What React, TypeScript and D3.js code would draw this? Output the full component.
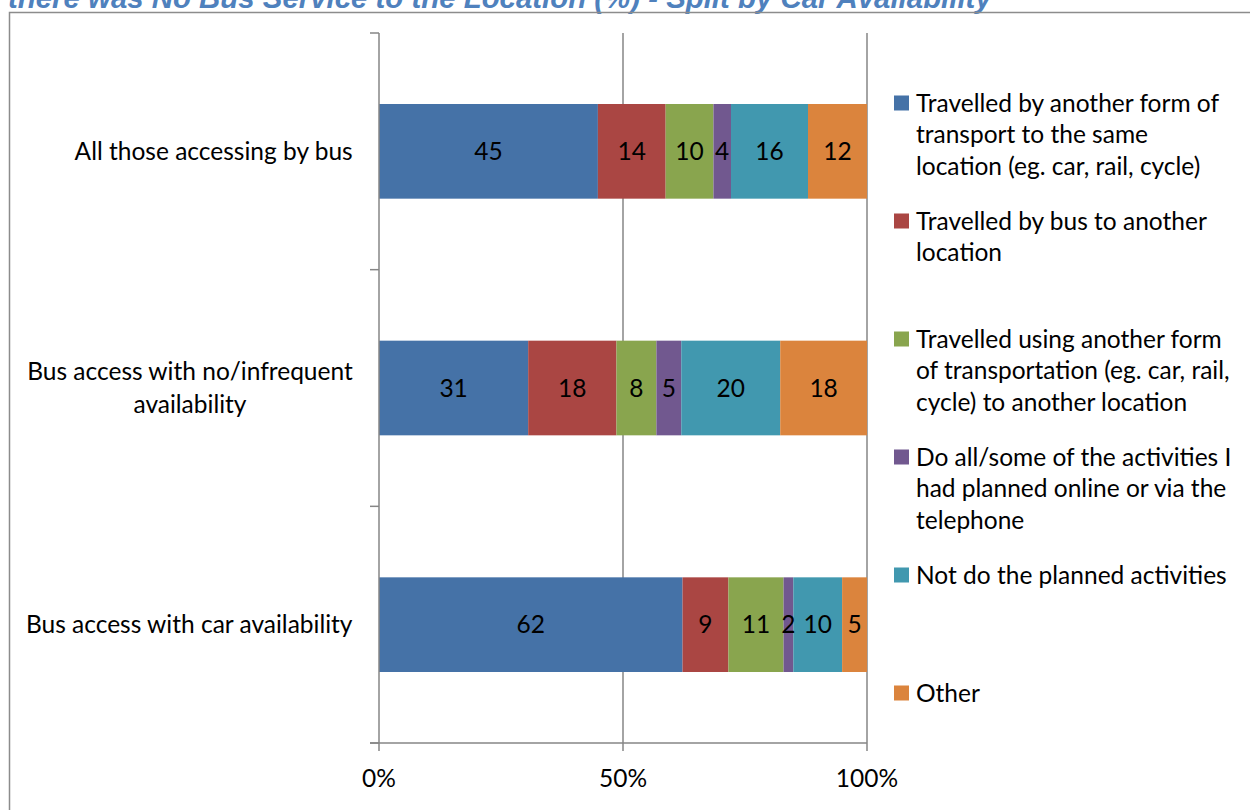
import React from "react";
import * as d3 from "d3";

const title = "there was No Bus Service to the Location (%) - Split by Car Availability";

const categories = [
  "All those accessing by bus",
  "Bus access with no/infrequent availability",
  "Bus access with car availability",
];
const categoryLines = [
  ["All those accessing by bus"],
  ["Bus access with no/infrequent", "availability"],
  ["Bus access with car availability"],
];

const seriesNames = [
  "Travelled by another form of transport to the same location (eg. car, rail, cycle)",
  "Travelled by bus to another location",
  "Travelled using another form of transportation (eg. car, rail, cycle) to another location",
  "Do all/some of the activities I had planned online or via the telephone",
  "Not do the planned activities",
  "Other",
];
const legendLines = [
  ["Travelled by another form of", "transport to the same", "location (eg. car, rail, cycle)"],
  ["Travelled by bus to another", "location"],
  ["Travelled using another form", "of transportation (eg. car, rail,", "cycle) to another location"],
  ["Do all/some of the activities I", "had planned online or via the", "telephone"],
  ["Not do the planned activities"],
  ["Other"],
];
const colors = ["#4572A7", "#AA4643", "#89A54E", "#71588F", "#4198AF", "#DB843D"];

// values per series, one per category
const travelledOtherSame = [44.9, 30.6, 62.2];
const busOtherLocation = [13.9, 18.1, 9.4];
const otherFormOtherLocation = [9.8, 8.2, 11.3];
const onlineOrPhone = [3.6, 5.1, 2.0];
const notDo = [15.8, 20.3, 10.0];
const other = [12.1, 17.8, 5.1];
const seriesValues = [
  travelledOtherSame,
  busOtherLocation,
  otherFormOtherLocation,
  onlineOrPhone,
  notDo,
  other,
];

const xTicks = [0, 50, 100];

const FONT = "Lato, 'Open Sans', sans-serif";
const FS = 24.5;

function measure(text: string): number {
  if (typeof document === "undefined") return text.length * FS * 0.47;
  const c = document.createElement("canvas").getContext("2d");
  if (!c) return text.length * FS * 0.47;
  c.font = `${FS}px Lato`;
  return c.measureText(text).width;
}

export default function App() {
  const W = 1250, H = 810;
  const left = 379, right = 867, top = 33, bottom = 743;
  const x = d3.scaleLinear().domain([0, 100]).range([left, right]);
  const y = d3.scaleBand<string>().domain(categories).range([top, bottom]).paddingInner(0.6).paddingOuter(0.3);
  const step = y.step();
  const grid = "#868686";
  const fs = FS;
  const labelRight = 353;

  const rows = categories.map((c, ci) => {
    const vals = seriesValues.map((s) => s[ci]);
    const total = d3.sum(vals);
    let acc = 0;
    return vals.map((v, si) => {
      const x0 = (acc / total) * 100;
      acc += v;
      const x1 = (acc / total) * 100;
      return { c, si, v, x0, x1 };
    });
  });

  return (
    <svg width={W} height={H} style={{ position: "absolute", left: 0, top: 0, background: "#fff" }}>
      <rect x={0} y={0} width={W} height={H} fill="#fff" />
      <text x={8} y={8} fontFamily="'Liberation Sans', Arial, sans-serif" fontWeight="bold" fontStyle="italic" fontSize={29.4} fill="#4F81BD">
        {title}
      </text>
      <rect x={9.5} y={12.5} width={1400} height={1000} fill="none" stroke="#8c8c8c" strokeWidth={1.5} />

      {/* gridlines */}
      {xTicks.filter((t) => t > 0).map((t) => (
        <line key={t} x1={x(t)} x2={x(t)} y1={top} y2={bottom} stroke={grid} strokeWidth={1.5} />
      ))}

      {/* bars */}
      {rows.map((segs, ci) =>
        segs.map((s) => (
          <rect key={ci + "-" + s.si} x={x(s.x0)} y={y(s.c)} width={x(s.x1) - x(s.x0)} height={y.bandwidth()} fill={colors[s.si]} />
        ))
      )}
      {rows.map((segs, ci) =>
        segs.map((s) => (
          <text key={"l" + ci + "-" + s.si} x={(x(s.x0) + x(s.x1)) / 2} y={(y(s.c) as number) + y.bandwidth() / 2} dy="0.35em" textAnchor="middle" fontFamily={FONT} fontSize={fs} fill="#000">
            {Math.round(s.v)}
          </text>
        ))
      )}

      {/* y axis */}
      <line x1={left} x2={left} y1={top} y2={bottom} stroke={grid} strokeWidth={1.5} />
      {d3.range(categories.length + 1).map((i) => (
        <line key={"yt" + i} x1={left - 9} x2={left} y1={top + i * step} y2={top + i * step} stroke={grid} strokeWidth={1.5} />
      ))}
      {/* x axis */}
      <line x1={left - 9} x2={right} y1={bottom} y2={bottom} stroke={grid} strokeWidth={1.5} />
      {xTicks.map((t) => (
        <g key={"xt" + t}>
          <line x1={x(t)} x2={x(t)} y1={bottom} y2={bottom + 8} stroke={grid} strokeWidth={1.5} />
          <text x={x(t)} y={778} dy="0.35em" textAnchor="middle" fontFamily={FONT} fontSize={fs} fill="#000">
            {t + "%"}
          </text>
        </g>
      ))}

      {/* category labels */}
      {categories.map((c, ci) => {
        const lines = categoryLines[ci];
        const cy = (y(c) as number) + y.bandwidth() / 2;
        const lh = 32.5;
        const maxW = d3.max(lines, (l) => measure(l)) || 0;
        const cx = labelRight - maxW / 2;
        return (
          <text key={"c" + ci} fontFamily={FONT} fontSize={fs} fill="#000" textAnchor="middle">
            {lines.map((ln, li) => (
              <tspan key={li} x={cx} y={cy + (li - (lines.length - 1) / 2) * lh} dy="0.35em">
                {ln}
              </tspan>
            ))}
          </text>
        );
      })}

      {/* legend */}
      {legendLines.map((lines, i) => {
        const y0 = 103 + 118 * i;
        return (
          <g key={"lg" + i}>
            <rect x={894} y={y0 - 7.5} width={15} height={15} fill={colors[i]} />
            <text fontFamily={FONT} fontSize={fs} fill="#000">
              {lines.map((ln, li) => (
                <tspan key={li} x={916} y={y0 + li * 31.8} dy="0.35em">
                  {ln}
                </tspan>
              ))}
            </text>
          </g>
        );
      })}
    </svg>
  );
}
